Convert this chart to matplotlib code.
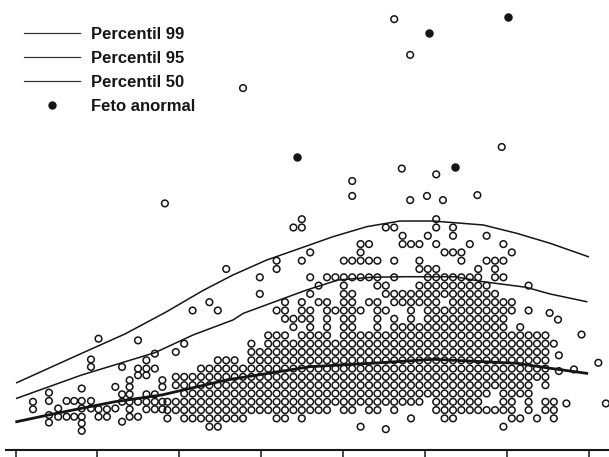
import matplotlib
matplotlib.use("Agg")
import matplotlib.pyplot as plt
from matplotlib.lines import Line2D

# units: x = scatter column (the dots sit on a regular grid), y = value row

# percentile curves
p99_x = [-1.94, 5.80, 10.95, 15.92, 20.20, 23.81, 27.82, 31.79, 35.71, 39.73, 43.69, 47.62, 53.61, 57.58, 61.55, 66.11]
p99_y = [5.30, 8.84, 11.17, 13.86, 16.39, 18.28, 20.08, 21.49, 22.89, 24.10, 24.78, 24.78, 24.30, 23.30, 22.10, 20.48]
p95_x = [-1.94, 5.80, 14.52, 19.05, 23.81, 25.04, 32.58, 36.31, 40.32, 44.29, 50.24, 53.57, 58.69, 61.55, 65.92]
p95_y = [3.42, 6.23, 8.92, 11.05, 12.86, 13.66, 16.47, 17.67, 18.00, 18.07, 18.07, 17.47, 16.80, 15.99, 15.06]
p50_x = [-1.94, 1.82, 5.80, 9.76, 15.32, 23.06, 32.98, 40.32, 47.62, 53.61, 57.58, 61.55, 65.92]
p50_y = [0.60, 1.41, 2.22, 3.01, 3.82, 5.63, 7.23, 7.64, 8.12, 7.83, 7.64, 7.04, 6.43]

curve_labels = ["Percentil 99", "Percentil 95", "Percentil 50"]
abnormal_label = "Feto anormal"

# dense part: for each column, runs of stacked rows (first, last)
stack_cols = list(range(16, 63))
stack_runs = [
    [(1, 3)],
    [(2, 3), (5, 6), (9, 9)],
    [(1, 6), (10, 10)],
    [(1, 6), (14, 14)],
    [(1, 7)],
    [(0, 7), (15, 15)],
    [(0, 8), (14, 14)],
    [(1, 8), (19, 19)],
    [(1, 8)],
    [(1, 7)],
    [(2, 10)],
    [(2, 9), (16, 16), (18, 18)],
    [(2, 11)],
    [(1, 11), (14, 14), (19, 20)],
    [(1, 11), (13, 15)],
    [(2, 10), (12, 13), (24, 24)],
    [(1, 11), (13, 15), (20, 20), (24, 25)],
    [(2, 14), (16, 16), (18, 18), (21, 21)],
    [(2, 11), (15, 15), (17, 17)],
    [(2, 15), (18, 18)],
    [(3, 10), (14, 14), (18, 18)],
    [(2, 18), (20, 20)],
    [(2, 16), (18, 18), (20, 20)],
    [(0, 0), (3, 11), (14, 14), (18, 18), (20, 22)],
    [(2, 11), (15, 15), (18, 18), (20, 20), (22, 22)],
    [(2, 15), (17, 18), (20, 20)],
    [(3, 11), (14, 14), (16, 17), (24, 24)],
    [(2, 13), (15, 16), (18, 18), (20, 20), (24, 24)],
    [(3, 12), (15, 16), (22, 23)],
    [(1, 1), (3, 16), (22, 22)],
    [(3, 12), (15, 17), (19, 20), (22, 22)],
    [(4, 19), (23, 23)],
    [(2, 19), (22, 22), (24, 25)],
    [(1, 14), (16, 18), (21, 21)],
    [(1, 18), (21, 21), (23, 24)],
    [(2, 18), (20, 21)],
    [(2, 18), (22, 22)],
    [(2, 19)],
    [(2, 2), (4, 17), (20, 20), (23, 23)],
    [(2, 2), (5, 16), (18, 20)],
    [(0, 0), (2, 15), (18, 18), (20, 20), (22, 22)],
    [(1, 11), (14, 15), (21, 21)],
    [(1, 1), (4, 12)],
    [(2, 11), (14, 14), (17, 17)],
    [(1, 1), (6, 11)],
    [(2, 3), (5, 11)],
    [(1, 3), (10, 10)],
]

# single normal fetuses outside the stacks
loose_x = [0, 0, 1.9, 1.9, 1.9, 1.9, 3, 3, 4, 4, 4.9, 4.9,
           5.8, 5.8, 5.8, 5.8, 5.8, 5.8, 6.9, 6.9, 6.9, 6.9, 7.8, 7.8, 7.8,
           8.8, 8.8, 9.8, 9.8, 10.6, 10.6, 10.6, 10.6,
           11.5, 11.5, 11.5, 11.5, 11.5, 11.5, 12.5, 12.5, 12.5, 12.5, 12.5,
           13.5, 13.5, 13.5, 13.5, 13.5, 13.5, 14.5, 14.5, 14.5, 14.5, 14.5,
           15.4, 15.4, 15.4, 15.4,
           62.6, 62.6, 64.4, 65.3, 67.3, 68.2, 63.5, 61.5, 62.5, 42,
           43.0, 44.9, 55.8, 43.9, 48.0, 38.0, 38.0, 46.9, 52.9, 44.9, 48.8, 25.0, 15.7]
loose_y = [3.0, 2.1, 4.1, 3.1, 1.4, 0.5, 2.2, 1.2, 3.1, 1.2, 3.1, 1.2,
           4.6, 3.1, 2.2, 1.2, 0.4, -0.5, 8.1, 7.2, 3.1, 2.2, 10.6, 2.1, 1.2,
           2.1, 1.2, 4.8, 2.2, 7.2, 3.9, 3.0, 0.6,
           5.6, 4.8, 3.9, 3.0, 2.1, 1.2, 10.4, 7.0, 6.2, 3.0, 1.2,
           8.0, 7.0, 6.2, 3.9, 3.0, 2.1, 8.8, 7.0, 3.9, 3.0, 2.1,
           5.6, 4.8, 3.0, 2.1,
           8.6, 6.7, 6.9, 11.1, 7.7, 2.8, 2.8, 13.7, 12.9, -0.3,
           49.1, 44.8, 33.7, 31.1, 30.4, 29.6, 27.8, 27.8, 27.9, 27.3, 27.3, 40.8, 26.9]

# abnormal fetuses
abn_x = [47.1, 56.5, 31.4, 50.2]
abn_y = [47.4, 49.4, 32.5, 31.3]

ink = "#151515"

normal_x = list(loose_x)
normal_y = list(loose_y)
for c, runs in zip(stack_cols, stack_runs):
    for lo, hi in runs:
        for r in range(lo, hi + 1):
            normal_x.append(c)
            normal_y.append(r)

fig = plt.figure(figsize=(6.09, 4.57), dpi=100)
ax = fig.add_axes([0.0095, 0.0153, 0.9905, 0.9847])

ax.scatter(normal_x, normal_y, s=23, facecolors="none", edgecolors=ink, linewidths=1.1, zorder=2)
ax.scatter(abn_x, abn_y, s=26, color=ink, zorder=3)

ax.plot(p99_x, p99_y, color=ink, lw=1.1, zorder=4)
ax.plot(p95_x, p95_y, color=ink, lw=1.1, zorder=4)
ax.plot(p50_x, p50_y, color=ink, lw=2.0, zorder=4)

ax.set_xlim(-3.24, 68.57)
ax.set_ylim(-2.81, 51.41)
ax.set_xticks([-2.08, 7.67, 17.42, 27.17, 36.92, 46.67, 56.42, 66.17])
ax.set_xticklabels([])
ax.set_yticks([])
for side in ["left", "top", "right"]:
    ax.spines[side].set_visible(False)
ax.spines["bottom"].set_linewidth(1.5)
ax.spines["bottom"].set_color(ink)
ax.tick_params(axis="x", direction="out", length=6, width=1.1, color=ink)

handles = [Line2D([], [], color="#333333", lw=0.9) for _ in curve_labels]
handles.append(Line2D([], [], ls="none", marker="o", ms=5, color=ink))
fig.legend(handles, curve_labels + [abnormal_label], loc="upper left",
           bbox_to_anchor=(0.039, 0.942), frameon=False,
           prop={"family": ["Liberation Sans", "DejaVu Sans"], "weight": "bold", "size": 12},
           labelcolor=ink, handlelength=3.4, handletextpad=0.65, labelspacing=0.55,
           borderpad=0, borderaxespad=0)

fig.savefig("out.png", dpi=100, facecolor="white")
